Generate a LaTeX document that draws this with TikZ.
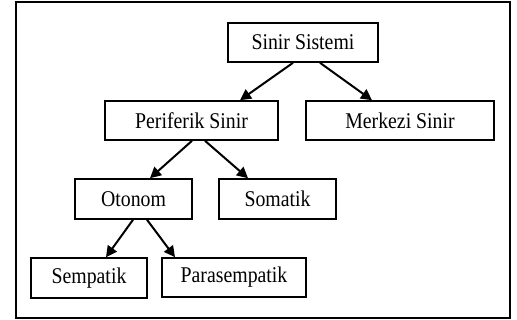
\documentclass[tikz,border=0pt]{standalone}
\usepackage{fontspec}
\setmainfont{Liberation Serif}[FakeStretch=0.88]
\usetikzlibrary{calc,arrows.meta}
\begin{document}
\begin{tikzpicture}[x=1pt,y=-1pt,
  box/.style={draw,line width=1.6pt,rectangle,inner sep=0pt,font=\fontsize{22.5}{24}\selectfont},
  arr/.style={line width=2pt,-{Triangle[length=11pt,width=11pt]}}]
\useasboundingbox (0,0) rectangle (517,320);
\draw[line width=1.6pt] (16,2) rectangle (510,318);
\node[box,minimum width=150pt,minimum height=39pt] (ss) at (303,42.5) {Sinir Sistemi};
\node[box,minimum width=173pt,minimum height=39pt] (per) at (191.5,120.5) {Periferik Sinir};
\node[box,minimum width=188pt,minimum height=39pt] (mer) at (400,120.5) {Merkezi Sinir};
\node[box,minimum width=117pt,minimum height=40pt] (oto) at (133.5,199) {Otonom};
\node[box,minimum width=117pt,minimum height=40pt] (som) at (277.5,199) {Somatik};
\node[box,minimum width=116pt,minimum height=40pt] (sem) at (89,278) {Sempatik};
\node[box,minimum width=144pt,minimum height=39pt] (par) at (234,277.5) {Parasempatik};
\draw[arr] ($(ss.south)+(-10,0)$) -- ($(per.north)+(48.5,0)$);
\draw[arr] ($(ss.south)+(17,0)$) -- ($(mer.north)+(-28,0)$);
\draw[arr] ($(per.south)+(0.5,0)$) -- ($(oto.north)+(16.5,0)$);
\draw[arr] ($(per.south)+(13.5,0)$) -- ($(som.north)+(-29.5,0)$);
\draw[arr] ($(oto.south)+(-0.5,0)$) -- ($(sem.north)+(17,0)$);
\draw[arr] ($(oto.south)+(13.5,0)$) -- ($(par.north)+(-59,0)$);
\end{tikzpicture}
\end{document}
